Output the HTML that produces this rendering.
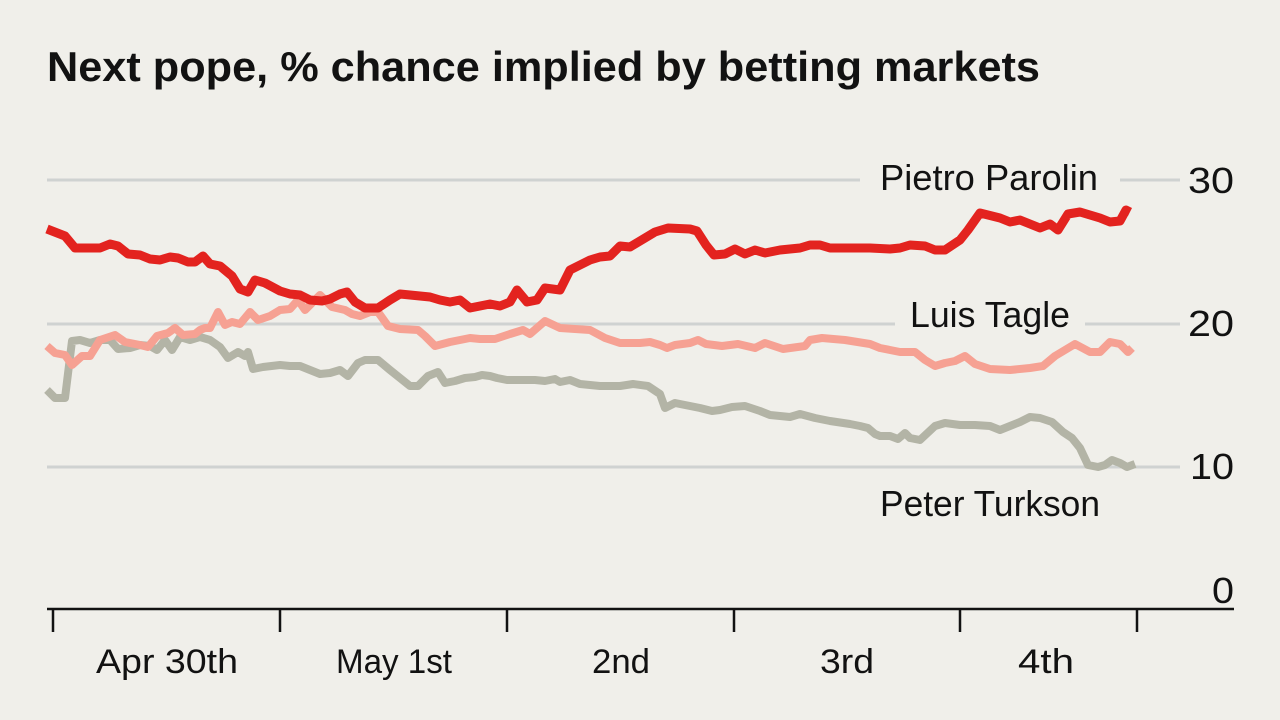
<!DOCTYPE html>
<html><head><meta charset="utf-8"><style>
html,body{margin:0;padding:0;background:#f0efea;}
svg{display:block;}
text{font-family:"Liberation Sans",sans-serif;fill:#121212;}
</style></head><body>
<svg width="1280" height="720" viewBox="0 0 1280 720">
<rect width="1280" height="720" fill="#f0efea"/>
<text x="47" y="81" font-size="42" font-weight="bold" textLength="993" lengthAdjust="spacingAndGlyphs">Next pope, % chance implied by betting markets</text>
<g stroke="#cfd2d1" stroke-width="3">
<line x1="47" y1="180" x2="860" y2="180"/><line x1="1120" y1="180" x2="1180" y2="180"/>
<line x1="47" y1="324" x2="895" y2="324"/><line x1="1085" y1="324" x2="1180" y2="324"/>
<line x1="47" y1="467" x2="1180" y2="467"/>
</g>
<g font-size="36" text-anchor="end">
<text x="1234" y="193" textLength="46" lengthAdjust="spacingAndGlyphs">30</text>
<text x="1234" y="336" textLength="46" lengthAdjust="spacingAndGlyphs">20</text>
<text x="1234" y="479" textLength="44" lengthAdjust="spacingAndGlyphs">10</text>
<text x="1234" y="603" textLength="22" lengthAdjust="spacingAndGlyphs">0</text>
</g>
<g font-size="36">
<text x="880" y="190" textLength="218" lengthAdjust="spacingAndGlyphs">Pietro Parolin</text>
<text x="910" y="327" textLength="160" lengthAdjust="spacingAndGlyphs">Luis Tagle</text>
<text x="880" y="516" textLength="220" lengthAdjust="spacingAndGlyphs">Peter Turkson</text>
</g>
<g fill="none" stroke-width="8" stroke-linejoin="round">
<polyline stroke="#b3b4a6" points="47,390 55,398 65,398 72,341 80,340 90,343 100,340 110,340 118,349 130,348 140,345 150,346 157,350 165,340 172,350 180,337 190,340 200,337 210,340 220,347 228,358 238,352 245,356 248,352 253,369 263,367 280,365 290,366 300,366 310,370 320,374 330,373 340,370 348,376 358,363 365,360 378,360 390,370 400,378 410,386 418,386 428,376 438,372 445,383 455,381 465,378 475,377 482,375 490,376 497,378 507,380 520,380 535,380 545,381 555,379 560,382 570,380 580,384 600,386 620,386 633,384 648,386 660,394 665,408 675,403 700,408 712,411 720,410 732,407 745,406 760,411 770,415 790,417 800,414 815,418 830,421 850,424 860,426 868,428 875,434 880,436 890,436 898,439 905,433 910,438 920,440 935,426 945,423 960,425 975,425 990,426 1000,430 1010,426 1020,422 1030,417 1040,418 1052,422 1063,432 1072,438 1080,448 1088,465 1098,467 1105,465 1112,460 1120,463 1127,467 1135,464"/>
<polyline stroke="#f6a193" points="47,346 55,353 65,355 72,365 82,356 90,356 100,340 115,335 125,342 140,345 148,347 157,336 168,333 175,328 183,335 195,334 200,330 205,328 210,328 218,312 225,325 232,322 240,324 250,312 258,320 270,316 280,310 290,309 298,300 305,310 315,300 320,295 325,300 332,307 345,310 352,314 360,316 370,312 378,312 388,326 400,329 418,330 425,336 435,346 450,342 470,338 480,339 495,339 510,334 523,330 530,334 545,321 560,328 575,329 590,330 605,338 620,343 640,343 650,342 660,345 667,348 675,345 690,343 698,340 706,344 722,346 738,344 755,348 765,343 783,349 805,346 810,340 822,338 845,340 870,344 880,348 890,350 900,352 915,352 925,360 935,366 945,363 955,361 965,356 975,364 990,369 1010,370 1030,368 1043,366 1055,356 1075,344 1090,352 1100,352 1110,342 1120,344 1128,352 1132,348"/>
<polyline stroke="#e3231f" stroke-width="9" points="47,229 65,236 75,248 100,248 110,244 118,246 128,254 140,255 150,259 160,260 170,257 178,258 188,262 195,262 203,256 210,264 220,266 232,276 240,289 248,292 255,280 265,283 280,291 290,294 300,295 310,300 322,301 330,299 340,294 347,292 355,302 365,308 378,308 390,300 400,294 420,296 430,297 440,300 450,302 460,300 470,308 480,306 490,304 500,306 510,302 517,290 527,302 537,300 545,288 560,290 570,270 590,260 600,257 610,256 620,246 630,247 645,238 655,232 668,228 690,229 697,231 706,245 714,255 725,254 735,249 745,254 755,250 765,253 780,250 800,248 810,245 820,245 830,248 850,248 870,248 890,249 900,248 910,245 925,246 935,250 945,250 960,240 968,230 980,213 1000,218 1010,222 1020,220 1040,228 1050,224 1058,230 1068,214 1080,212 1100,218 1110,222 1120,221 1126,210 1130,212"/>
</g>
<line x1="47" y1="609" x2="1234" y2="609" stroke="#121212" stroke-width="2.5"/>
<g stroke="#121212" stroke-width="2.5">
<line x1="53" y1="609" x2="53" y2="632"/><line x1="280" y1="609" x2="280" y2="632"/>
<line x1="507" y1="609" x2="507" y2="632"/><line x1="734" y1="609" x2="734" y2="632"/>
<line x1="960" y1="609" x2="960" y2="632"/><line x1="1137" y1="609" x2="1137" y2="632"/>
</g>
<g font-size="34" text-anchor="middle">
<text x="167" y="673" textLength="142" lengthAdjust="spacingAndGlyphs">Apr 30th</text>
<text x="394" y="673" textLength="116" lengthAdjust="spacingAndGlyphs">May 1st</text>
<text x="621" y="673" textLength="58" lengthAdjust="spacingAndGlyphs">2nd</text>
<text x="847" y="673" textLength="54" lengthAdjust="spacingAndGlyphs">3rd</text>
<text x="1046" y="673" textLength="56" lengthAdjust="spacingAndGlyphs">4th</text>
</g>
</svg>
</body></html>
